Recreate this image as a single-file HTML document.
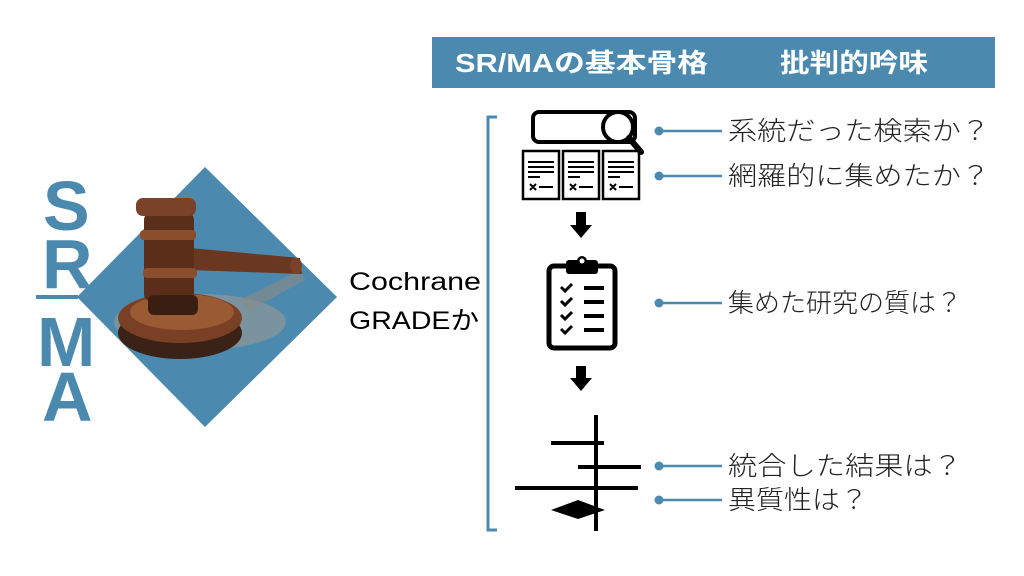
<!DOCTYPE html>
<html><head><meta charset="utf-8"><style>
body{margin:0;width:1024px;height:576px;background:#fff;overflow:hidden}
svg{display:block}
text{font-family:"Liberation Sans","Noto Sans CJK JP",sans-serif}
</style></head><body>
<svg width="1024" height="576" viewBox="0 0 1024 576">
<!-- header -->
<rect x="432" y="37" width="563" height="51" fill="#4b8aae"/>
<text x="455" y="72" font-size="26" font-weight="bold" fill="#fff" textLength="253" lengthAdjust="spacingAndGlyphs">SR/MAの基本骨格</text>
<text x="780" y="72" font-size="26" font-weight="bold" fill="#fff" textLength="148" lengthAdjust="spacingAndGlyphs">批判的吟味</text>
<!-- diamond -->
<polygon points="205,167 337,297 205,427 77,297" fill="#4b8aae"/>
<!-- gavel -->
<g>
<ellipse cx="200" cy="322" rx="86" ry="28" fill="#9a9a94" opacity="0.6"/>
<path d="M240,300 L300,270 L305,280 L250,310Z" fill="#8a8a86" opacity="0.6"/>
<ellipse cx="180" cy="333" rx="62" ry="26" fill="#3b2216"/>
<ellipse cx="180" cy="318" rx="62" ry="25" fill="#7a4025"/>
<ellipse cx="182" cy="312" rx="52" ry="18" fill="#9a5a34"/>
<polygon points="190,248 300,258 302,274 190,270" fill="#6a3820"/>
<ellipse cx="296" cy="266" rx="6" ry="8" fill="#7a4228"/>
<rect x="144" y="212" width="50" height="90" rx="8" fill="#5a2e18"/>
<rect x="136" y="198" width="60" height="18" rx="7" fill="#7a4228"/>
<rect x="140" y="230" width="56" height="10" rx="4" fill="#8a4e2c"/>
<rect x="143" y="268" width="54" height="10" rx="4" fill="#8a4e2c"/>
<rect x="148" y="295" width="50" height="20" rx="6" fill="#3a1e12"/>
</g>
<!-- SRMA letters -->
<g fill="#4b8aae" font-weight="bold" font-size="70">
<text x="43" y="230">S</text>
<text x="42" y="288">R</text>
<text x="37" y="366">M</text>
<text x="42" y="421">A</text>
</g>
<rect x="36" y="295" width="42" height="4" fill="#4b8aae"/>
<!-- Cochrane -->
<text x="349" y="290" font-size="25" fill="#000" textLength="132" lengthAdjust="spacingAndGlyphs">Cochrane</text>
<text x="349" y="329" font-size="25" fill="#000" textLength="130" lengthAdjust="spacingAndGlyphs">GRADEか</text>
<!-- bracket -->
<path d="M497,117 L488,117 L488,530 L497,530" fill="none" stroke="#4b8aae" stroke-width="3"/>
<!-- search bar -->
<rect x="533" y="112" width="102" height="30" rx="6" fill="none" stroke="#000" stroke-width="4"/>
<circle cx="618" cy="127" r="15" fill="#fff" stroke="#000" stroke-width="4"/>
<line x1="629" y1="138" x2="641" y2="152" stroke="#000" stroke-width="6" stroke-linecap="round"/>
<!-- documents -->
<g stroke="#000" fill="none">
<rect x="523" y="151" width="36" height="48" stroke-width="2.5"/>
<rect x="563" y="151" width="36" height="48" stroke-width="2.5"/>
<rect x="603" y="151" width="36" height="48" stroke-width="2.5"/>
</g>
<g stroke="#000" stroke-width="2">
<path d="M528,162h26M528,167h26M528,172h26M528,177h12M568,162h26M568,167h26M568,172h26M568,177h12M608,162h26M608,167h26M608,172h26M608,177h12"/>
<path d="M530,184l6,6M536,184l-6,6M539,187h14M570,184l6,6M576,184l-6,6M579,187h14M610,184l6,6M616,184l-6,6M619,187h14"/>
</g>
<!-- arrows -->
<polygon points="576,212 586,212 586,225 592,225 581,238 570,225 576,225" fill="#000"/>
<polygon points="576,366 586,366 586,378 592,378 581,391 570,378 576,378" fill="#000"/>
<!-- clipboard -->
<rect x="549" y="266" width="66" height="82" rx="5" fill="none" stroke="#000" stroke-width="5"/>
<rect x="566" y="260" width="32" height="14" rx="3" fill="#000"/>
<circle cx="582" cy="261" r="5" fill="#000"/>
<circle cx="582" cy="261" r="2.5" fill="#fff"/>
<g stroke="#000" stroke-width="3" fill="none">
<path d="M561,287l4,4 7,-7M561,301l4,4 7,-7M561,315l4,4 7,-7M561,329l4,4 7,-7"/>
</g>
<g fill="#000">
<rect x="584" y="286" width="20" height="4"/><rect x="584" y="300" width="20" height="4"/><rect x="584" y="314" width="20" height="4"/><rect x="584" y="328" width="20" height="4"/>
</g>
<!-- forest plot -->
<g fill="#000">
<rect x="594" y="415" width="4" height="116"/>
<rect x="551" y="441" width="53" height="4"/>
<rect x="578" y="465" width="63" height="4"/>
<rect x="515" y="486" width="123" height="4"/>
<polygon points="551,510 578,500 605,510 578,519"/>
</g>
<!-- connectors -->
<g stroke="#4b8aae" stroke-width="2.5">
<line x1="659" y1="131" x2="722" y2="131"/>
<line x1="659" y1="176" x2="722" y2="176"/>
<line x1="659" y1="303" x2="722" y2="303"/>
<line x1="659" y1="466" x2="722" y2="466"/>
<line x1="659" y1="500" x2="722" y2="500"/>
</g>
<g fill="#4b8aae">
<circle cx="659" cy="131" r="4.5"/><circle cx="659" cy="176" r="4.5"/><circle cx="659" cy="303" r="4.5"/><circle cx="659" cy="466" r="4.5"/><circle cx="659" cy="500" r="4.5"/>
</g>
<g font-size="26" fill="#222" font-weight="300">
<text x="728" y="140" textLength="262" lengthAdjust="spacingAndGlyphs">系統だった検索か？</text>
<text x="728" y="185" textLength="262" lengthAdjust="spacingAndGlyphs">網羅的に集めたか？</text>
<text x="728" y="312" textLength="234" lengthAdjust="spacingAndGlyphs">集めた研究の質は？</text>
<text x="728" y="475" textLength="234" lengthAdjust="spacingAndGlyphs">統合した結果は？</text>
<text x="728" y="509" textLength="140" lengthAdjust="spacingAndGlyphs">異質性は？</text>
</g>
</svg>
</body></html>
